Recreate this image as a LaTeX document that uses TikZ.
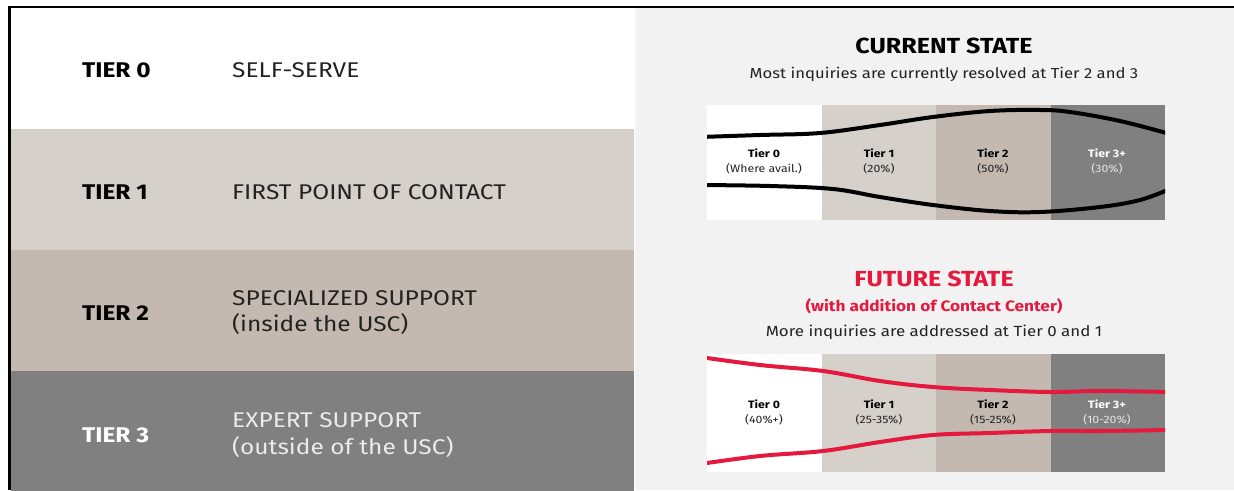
\documentclass[tikz,border=0pt]{standalone}
\usepackage{fontspec}
\setmainfont{Fira Sans}[FakeStretch=1.15]
\usepackage{tikz}
\usetikzlibrary{positioning}
\definecolor{tierone}{HTML}{D5D0CA}
\definecolor{tiertwo}{HTML}{C3B9B0}
\definecolor{tierthree}{HTML}{808080}
\definecolor{panelgray}{HTML}{F2F2F2}
\definecolor{futurered}{HTML}{E4193D}
\definecolor{inkgray}{HTML}{222222}
\tikzset{
band/.style={inner sep=0pt, minimum width=623pt, minimum height=121pt, anchor=north west}, % one tier row on the left
tierlabel/.style={anchor=base west, inner sep=0pt, font=\bfseries\fontsize{21.3}{24}\selectfont}, % TIER n
tierdesc/.style={anchor=base west, inner sep=0pt, text=inkgray, font=\fontsize{21.3}{24}\selectfont}, % what the tier does
column/.style={inner sep=0pt, minimum width=114.5pt, minimum height=115pt, anchor=north west}, % one column of a chart
colname/.style={anchor=base, font=\bfseries\fontsize{10.7}{12}\selectfont}, % Tier n in a chart
colshare/.style={anchor=base, text=inkgray, font=\fontsize{10.7}{12}\selectfont}, % share of inquiries
heading/.style={anchor=base, font=\bfseries\fontsize{21.8}{24}\selectfont}, % CURRENT / FUTURE STATE
subline/.style={anchor=base, text=inkgray, font=\fontsize{14.5}{18}\selectfont}, % one-line summary
flow/.style={line width=4pt, line cap=round}, % the funnel lines
}

\begin{document}
\begin{tikzpicture}[x=1pt, y=-1pt]
    \useasboundingbox (0,0) rectangle (1234,490);
    \fill[white] (0,0) rectangle (1234,490);

    % left side: the four tiers
    \node[band, fill=white] (band0) at (11,8) {};
    \node[band, fill=tierone] (band1) at (11,129) {};
    \node[band, fill=tiertwo] (band2) at (11,250) {};
    \node[band, fill=tierthree, minimum height=120pt] (band3) at (11,371) {};

    \node[tierlabel] (tier0) at (82,77) {TIER 0};
    \node[tierdesc] (desc0) at (232,77) {SELF-SERVE};
    \node[tierlabel] (tier1) at (82,199) {TIER 1};
    \node[tierdesc] (desc1) at (232,199) {FIRST POINT OF CONTACT};
    \node[tierlabel] (tier2) at (82,320) {TIER 2};
    \node[tierdesc] (desc2) at (232,305) {SPECIALIZED SUPPORT};
    \node[tierdesc] (desc2b) at (232,331) {(inside the USC)};
    \node[tierlabel, text=white] (tier3) at (82,442) {TIER 3};
    \node[tierdesc, text=white!92!black] (desc3) at (232,427) {EXPERT SUPPORT};
    \node[tierdesc, text=white!92!black] (desc3b) at (232,454) {(outside of the USC)};

    % right side panel
    \fill[panelgray] (635,8) rectangle (1234,490);

    % current state
    \node[heading] (curhead) at (944,53) {CURRENT STATE};
    \node[subline] (cursub) at (944,78) {Most inquiries are currently resolved at Tier 2 and 3};

    \node[column, fill=white] (cur0) at (707,105) {};
    \node[column, fill=tierone] (cur1) at (821.5,105) {};
    \node[column, fill=tiertwo] (cur2) at (936,105) {};
    \node[column, fill=tierthree] (cur3) at (1050.5,105) {};

    \begin{scope}
        \clip (707,105) rectangle (1165,220);
        \draw[flow, black] plot[smooth, tension=0.6] coordinates {(700,137) (760,135) (820,133) (880,125) (933,117) (990,111) (1040,110) (1070,112) (1120,121) (1170,134)};
        \draw[flow, black] plot[smooth, tension=0.6] coordinates {(700,185) (770,186) (833,189) (880,197) (933,205) (990,211) (1040,212) (1100,207) (1140,200) (1170,189)};
    \end{scope}

    \node[colname] (cur0name) at (764,157) {Tier 0};
    \node[colshare] (cur0share) at (764,172) {(Where avail.)};
    \node[colname] (cur1name) at (879,157) {Tier 1};
    \node[colshare] (cur1share) at (879,172) {(20\%)};
    \node[colname] (cur2name) at (993,157) {Tier 2};
    \node[colshare] (cur2share) at (993,172) {(50\%)};
    \node[colname, text=white] (cur3name) at (1107,157) {Tier 3+};
    \node[colshare, text=white!90!black] (cur3share) at (1107,172) {(30\%)};

    % future state
    \node[heading, text=futurered] (futhead) at (934,286) {FUTURE STATE};
    \node[subline, text=futurered, font=\bfseries\fontsize{15}{18}\selectfont] (futnote) at (934,311) {(with addition of Contact Center)};
    \node[subline, font=\fontsize{14.7}{18}\selectfont] (futsub) at (934,336) {More inquiries are addressed at Tier 0 and 1};

    \node[column, fill=white, minimum height=118pt] (fut0) at (707,354) {};
    \node[column, fill=tierone, minimum height=118pt] (fut1) at (821.5,354) {};
    \node[column, fill=tiertwo, minimum height=118pt] (fut2) at (936,354) {};
    \node[column, fill=tierthree, minimum height=118pt] (fut3) at (1050.5,354) {};

    \begin{scope}
        \clip (707,354) rectangle (1165,472);
        \draw[flow, futurered] plot[smooth, tension=0.6] coordinates {(700,357) (760,365) (823,371) (880,381) (933,387) (990,390) (1050,392) (1100,391) (1170,392)};
        \draw[flow, futurered] plot[smooth, tension=0.6] coordinates {(700,464) (760,456) (823,451) (880,442) (933,435) (990,433) (1050,431) (1100,431) (1170,430)};
    \end{scope}

    \node[colname] (fut0name) at (764,408) {Tier 0};
    \node[colshare] (fut0share) at (764,423) {(40\%+)};
    \node[colname] (fut1name) at (879,408) {Tier 1};
    \node[colshare] (fut1share) at (879,423) {(25-35\%)};
    \node[colname] (fut2name) at (993,408) {Tier 2};
    \node[colshare] (fut2share) at (993,423) {(15-25\%)};
    \node[colname, text=white] (fut3name) at (1107,408) {Tier 3+};
    \node[colshare, text=white!90!black] (fut3share) at (1107,423) {(10-20\%)};

    % frame along the top and the left edge
    \draw[line width=2.5pt] (9.5,490) -- (9.5,7) -- (1234,7);
\end{tikzpicture}
\end{document}
